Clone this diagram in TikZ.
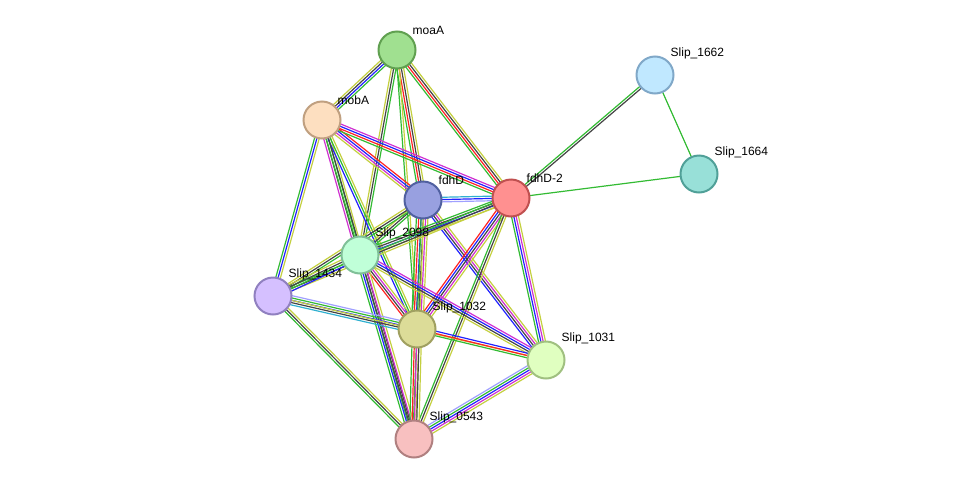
\documentclass[tikz,border=0pt]{standalone}
\usepackage{fontspec}
\setmainfont{Liberation Sans}
\usetikzlibrary{calc,backgrounds}

\definecolor{sgreen}{HTML}{33BB33}
\definecolor{sred}{HTML}{FF2222}
\definecolor{sblue}{HTML}{2222FF}
\definecolor{sblack}{HTML}{444444}
\definecolor{smag}{HTML}{D030D0}
\definecolor{syel}{HTML}{C4D040}
\definecolor{scyan}{HTML}{30B0D0}
\definecolor{slav}{HTML}{A0A0FF}
% Knotenfarben
\definecolor{fmoaA}{HTML}{A0E090}\definecolor{dmoaA}{HTML}{60A050}
\definecolor{fmobA}{HTML}{FDDFC0}\definecolor{dmobA}{HTML}{C0A080}
\definecolor{ffdhD}{HTML}{98A0E0}\definecolor{dfdhD}{HTML}{5060A0}
\definecolor{ffdhDb}{HTML}{FF9090}\definecolor{dfdhDb}{HTML}{C05050}
\definecolor{fa}{HTML}{C0FFD8}\definecolor{da}{HTML}{80C098}
\definecolor{fb}{HTML}{D5C0FF}\definecolor{db}{HTML}{9080C0}
\definecolor{fc}{HTML}{DCDC98}\definecolor{dc}{HTML}{A0A060}
\definecolor{fd}{HTML}{E0FFC0}\definecolor{dd}{HTML}{A0C080}
\definecolor{fe}{HTML}{F8C0C0}\definecolor{de}{HTML}{B08080}
\definecolor{ff}{HTML}{C0E8FF}\definecolor{df}{HTML}{80A8C8}
\definecolor{fg}{HTML}{98E0D8}\definecolor{dg}{HTML}{50A098}

\tikzset{
  prot/.style 2 args={circle, minimum size=37pt, inner sep=0pt, line width=2pt, fill=#1, draw=#2},
  lbl/.style={font=\fontsize{12}{14}\selectfont, inner sep=1pt, label distance=1pt},
}

% edge with parallel coloured lines: from, to, number, colours
\newcommand\edge[4]{%
  \foreach \c [count=\i] in {#4} {
    \draw [\c, line width=1.2pt] let \p1=($(#2)-(#1)$), \n1={atan2(\y1,\x1)+90}, \n2={((\i-1)-(#3-1)/2)*2.3} in
      ($(#1)+(\n1:\n2 pt)$) -- ($(#2)+(\n1:\n2 pt)$);
  }}

\begin{document}
\begin{tikzpicture}[x=1pt, y=-1pt]
      \useasboundingbox (0,0) rectangle (976,485);

      % Proteine
      \node [prot={fmoaA}{dmoaA}, label={[lbl]45:moaA}] (moaA) at (397,50) {};
      \node [prot={fmobA}{dmobA}, label={[lbl]45:mobA}] (mobA) at (322,120) {};
      \node [prot={ffdhD}{dfdhD}, label={[lbl]45:fdhD}] (fdhD) at (423,200) {};
      \node [prot={ffdhDb}{dfdhDb}, label={[lbl]45:fdhD-2}] (fdhD2) at (511,198) {};
      \node [prot={fa}{da}, label={[lbl]45:Slip\_2098}] (s2098) at (360,255) {};
      \node [prot={fb}{db}, label={[lbl]45:Slip\_1434}] (s1434) at (273,296) {};
      \node [prot={fc}{dc}, label={[lbl]45:Slip\_1032}] (s1032) at (417,329) {};
      \node [prot={fd}{dd}, label={[lbl]45:Slip\_1031}] (s1031) at (546,360) {};
      \node [prot={fe}{de}, label={[lbl]45:Slip\_0543}] (s0543) at (414,439) {};
      \node [prot={ff}{df}, label={[lbl]45:Slip\_1662}] (s1662) at (655,75) {};
      \node [prot={fg}{dg}, label={[lbl]45:Slip\_1664}] (s1664) at (699,174) {};

      % Verbindungen
      \begin{scope}[on background layer]
      \edge{moaA}{mobA}{4}{syel,sblack,sblue,sgreen}
      \edge{moaA}{fdhD}{4}{sgreen,sred,sblack,syel}
      \edge{moaA}{fdhD2}{4}{sgreen,sred,sblack,syel}
      \edge{moaA}{s2098}{3}{syel,sblack,sgreen}
      \edge{moaA}{s1032}{2}{sgreen,syel}
      \edge{mobA}{fdhD}{4}{syel,smag,sblue,sred}
      \edge{mobA}{fdhD2}{4}{sgreen,sred,sblue,smag}
      \edge{mobA}{s2098}{4}{smag,sblack,sgreen,syel}
      \edge{mobA}{s1434}{3}{sgreen,sblue,syel}
      \edge{mobA}{s1032}{3}{sblue,sgreen,syel}
      \edge{mobA}{s0543}{2}{sgreen,sblack}
      \edge{fdhD}{fdhD2}{3}{slav,sblue,scyan}
      \edge{fdhD}{s2098}{3}{syel,sblack,sgreen}
      \edge{fdhD}{s1434}{3}{syel,sblack,sgreen}
      \edge{fdhD}{s1032}{6}{sgreen,sred,sblue,sblack,smag,syel}
      \edge{fdhD}{s1031}{4}{sblue,sblack,smag,syel}
      \edge{fdhD}{s0543}{2}{sgreen,syel}
      \edge{fdhD2}{s2098}{4}{sgreen,sblack,sblue,syel}
      \edge{fdhD2}{s1434}{3}{sgreen,sblack,syel}
      \edge{fdhD2}{s1032}{5}{sred,sblue,sblack,smag,syel}
      \edge{fdhD2}{s1031}{4}{sgreen,sblue,smag,syel}
      \edge{fdhD2}{s0543}{3}{sgreen,sblack,syel}
      \edge{fdhD2}{s1662}{2}{sblack,sgreen}
      \edge{fdhD2}{s1664}{1}{sgreen}
      \edge{s1662}{s1664}{1}{sgreen}
      \edge{s2098}{s1434}{4}{syel,sblack,sgreen,sblue}
      \edge{s2098}{s1032}{4}{sred,sblack,smag,syel}
      \edge{s2098}{s1031}{4}{syel,sblack,sblue,smag}
      \edge{s2098}{s0543}{5}{sgreen,sblue,sblack,smag,syel}
      \edge{s1434}{s1032}{5}{scyan,sblack,sblue,sgreen,slav}
      \edge{s1434}{s0543}{3}{sgreen,sblack,syel}
      \edge{s1434}{s1031}{1}{syel}
      \edge{s1032}{s1031}{3}{sgreen,sred,sblue}
      \edge{s1032}{s0543}{5}{sgreen,sred,smag,sblack,syel}
      \edge{s1031}{s0543}{5}{slav,sgreen,sblue,smag,syel}
      \end{scope}
    \end{tikzpicture}
\end{document}
